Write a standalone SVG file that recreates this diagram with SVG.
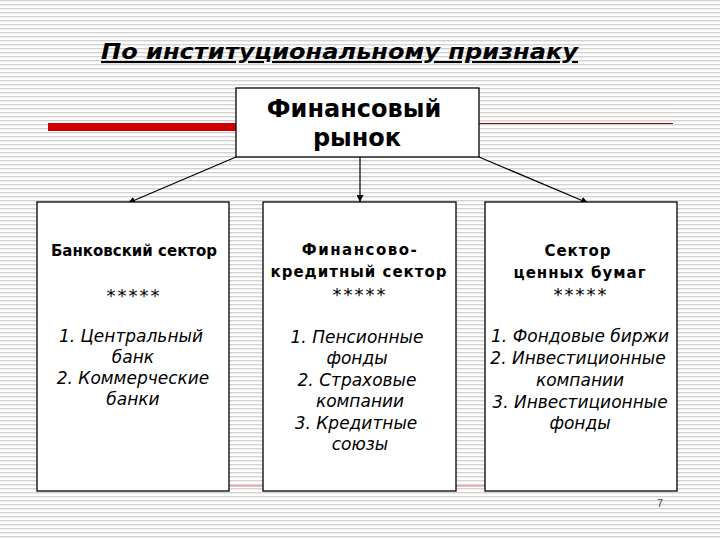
<svg xmlns="http://www.w3.org/2000/svg" width="720" height="540" viewBox="0 0 720 540">
<defs>
<pattern id="stripes" width="8" height="4" patternUnits="userSpaceOnUse">
<rect width="8" height="4" fill="#ffffff"/>
<rect y="0" width="8" height="1.4" fill="#d2d2d2"/>
</pattern>
<marker id="arr" viewBox="0 0 10 10" refX="10" refY="5" markerWidth="7" markerHeight="7" orient="auto" markerUnits="userSpaceOnUse">
<path d="M0,0 L10,5 L0,10 z" fill="#000"/>
</marker>
<style>
.box{fill:#fff;stroke:#000;stroke-width:1.3}
.title{font-family:"DejaVu Sans",Verdana,sans-serif;font-size:21px;font-weight:bold;font-style:italic;text-decoration:underline}
.main{font-family:"DejaVu Sans",Verdana,sans-serif;font-size:24px;font-weight:bold;text-anchor:middle}
.hdr{font-family:"DejaVu Sans",Verdana,sans-serif;font-size:15px;font-weight:bold;text-anchor:middle}
.star{font-family:"DejaVu Sans",Verdana,sans-serif;font-size:18px;letter-spacing:2px;text-anchor:middle}
.item{font-family:"DejaVu Sans",Verdana,sans-serif;font-size:17px;font-style:italic;text-anchor:middle}
.conn{stroke:#000;stroke-width:1.2;fill:none}
</style>
</defs>
<rect width="720" height="540" fill="url(#stripes)"/>
<rect x="48" y="123" width="190" height="8" fill="#cc0000"/>
<line x1="479" y1="123.5" x2="673" y2="123.5" stroke="#7a1010" stroke-width="1"/>
<line x1="229" y1="486" x2="486" y2="486" stroke="#e07070" stroke-width="1"/>
<text class="title" x="101" y="59" textLength="477" lengthAdjust="spacingAndGlyphs">По институциональному признаку</text>

<g id="connectors">
<line class="conn" x1="236" y1="157" x2="128" y2="203" marker-end="url(#arr)"/>
<line class="conn" x1="360" y1="157" x2="360" y2="202" marker-end="url(#arr)"/>
<line class="conn" x1="479" y1="157" x2="588" y2="203" marker-end="url(#arr)"/>
</g>

<g id="market">
<rect class="box" x="236" y="88" width="243" height="69"/>
<text class="main" x="354" y="117">Финансовый</text>
<text class="main" x="357" y="146">рынок</text>
</g>

<g id="bank">
<rect class="box" x="37" y="202" width="192" height="289"/>
<text class="hdr" x="134" y="256">Банковский сектор</text>
<text class="star" x="134" y="302">*****</text>
<text class="item" x="131" y="342">1. Центральный</text>
<text class="item" x="133" y="363">банк</text>
<text class="item" x="133" y="384">2. Коммерческие</text>
<text class="item" x="133" y="405">банки</text>
</g>

<g id="credit">
<rect class="box" x="263" y="202" width="193" height="289"/>
<text class="hdr" x="360" y="255" letter-spacing="1.5">Финансово-</text>
<text class="hdr" x="359" y="277" letter-spacing="1">кредитный сектор</text>
<text class="star" x="360" y="301">*****</text>
<text class="item" x="357" y="343">1. Пенсионные</text>
<text class="item" x="357" y="364">фонды</text>
<text class="item" x="357" y="386">2. Страховые</text>
<text class="item" x="360" y="407">компании</text>
<text class="item" x="356" y="429">3. Кредитные</text>
<text class="item" x="360" y="450">союзы</text>
</g>

<g id="securities">
<rect class="box" x="485" y="202" width="192" height="289"/>
<text class="hdr" x="578" y="256" letter-spacing="1">Сектор</text>
<text class="hdr" x="580" y="278" letter-spacing="1">ценных бумаг</text>
<text class="star" x="581" y="301">*****</text>
<text class="item" x="580" y="342">1. Фондовые биржи</text>
<text class="item" x="578" y="364">2. Инвестиционные</text>
<text class="item" x="580" y="386">компании</text>
<text class="item" x="580" y="408">3. Инвестиционные</text>
<text class="item" x="580" y="429">фонды</text>
</g>

<text x="660" y="507" font-family="Liberation Sans,Arial,sans-serif" font-size="11" fill="#444" text-anchor="middle">7</text>
</svg>
